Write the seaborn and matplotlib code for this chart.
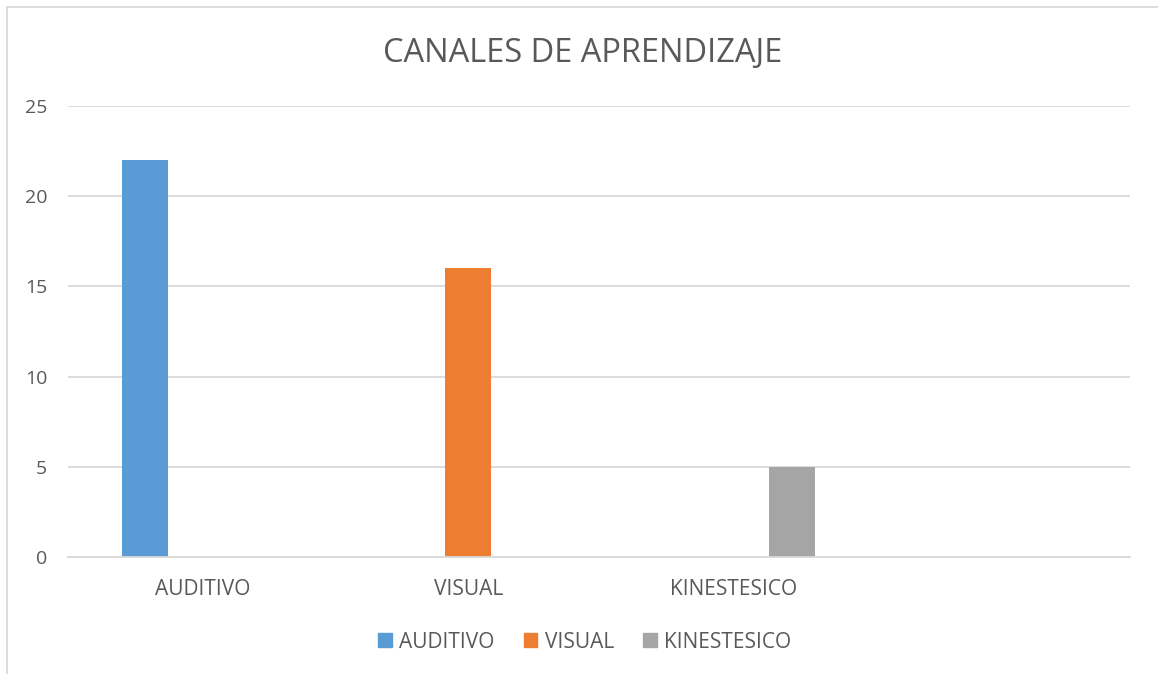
import pandas as pd
import matplotlib.pyplot as plt
import seaborn as sns
from matplotlib.lines import Line2D

# Daten
categories = ["AUDITIVO", "VISUAL", "KINESTESICO"]
series = ["AUDITIVO", "VISUAL", "KINESTESICO"]
auditivo = [22, 0, 0]
visual = [0, 16, 0]
kinestesico = [0, 0, 5]
colors = ["#5B9BD5", "#ED7D31", "#A5A5A5"]

rows = []
for name, vals in zip(series, [auditivo, visual, kinestesico]):
    for cat, v in zip(categories, vals):
        rows.append({"canal": cat, "serie": name, "valor": v})
df = pd.DataFrame(rows)

sns.set_style("white")
plt.rcParams['font.family'] = ['Open Sans', 'DejaVu Sans']
text_color = "#595959"
grid_color = "#D9D9D9"

fig = plt.figure(figsize=(11.58, 6.74), dpi=100)
ax = fig.add_axes([68 / 1158, 1 - 557 / 674, (1130 - 68) / 1158, (557 - 106) / 674])

sns.barplot(
    data=df, x="canal", y="valor", hue="serie",
    order=categories, hue_order=series,
    palette=colors, width=0.653, gap=0.2,
    linewidth=0, saturation=1, legend=False, ax=ax
)

ax.set_xlim(-0.508, 3.492)
ax.set_ylim(0, 25)
ax.set_yticks(range(0, 26, 5))
ax.yaxis.grid(True, color=grid_color, linewidth=1.3)
ax.set_axisbelow(True)
for s in ["top", "right", "left"]:
    ax.spines[s].set_visible(False)
ax.spines["bottom"].set_color(grid_color)
ax.spines["bottom"].set_linewidth(1.3)
ax.set_xlabel("")
ax.set_ylabel("")
ax.set_xticks(range(len(categories)))
ax.set_xticklabels(categories)
ax.tick_params(axis="both", length=0, colors=text_color)
ax.tick_params(axis="x", labelsize=15, pad=16)
ax.tick_params(axis="y", labelsize=14, pad=15)

fig.text(0.5035, 1 - 53 / 674, "CANALES DE APRENDIZAJE", ha="center", va="center",
         fontsize=23.5, color=text_color)

handles = [plt.Rectangle((0, 0), 1, 1, color=c) for c in colors]
fig.legend(handles, series, loc="center", bbox_to_anchor=(0.505, 1 - 642 / 674),
           ncol=3, frameon=False, fontsize=15, handlelength=0.65, handleheight=0.65,
           handletextpad=0.35, columnspacing=1.4, labelcolor=text_color)

# Rahmen
fig.add_artist(Line2D([7 / 1158, 7 / 1158], [0, 1 - 7 / 674], color=grid_color, linewidth=1.3))
fig.add_artist(Line2D([7 / 1158, 1], [1 - 7 / 674, 1 - 7 / 674], color=grid_color, linewidth=1.3))

fig.savefig("out.png", dpi=100)
